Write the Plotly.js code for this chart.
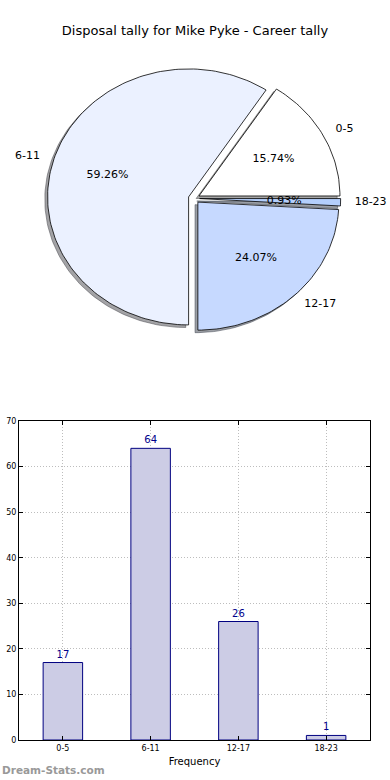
<!DOCTYPE html>
<html>
<head>
<meta charset="utf-8">
<script src="https://cdn.plot.ly/plotly-3.0.1.min.js"></script>
<style>html,body{margin:0;padding:0;background:#fff;}#chart{width:390px;height:780px;}</style>
</head>
<body>
<div id="chart"></div>
<script>
// ---- data ----
const categories = ['0-5', '6-11', '12-17', '18-23'];
const counts = [17, 64, 26, 1];
const chartTitle = 'Disposal tally for Mike Pyke - Career tally';
const xTitle = 'Frequency';
const yTicks = [0, 10, 20, 30, 40, 50, 60, 70];

// ---- style ----
const sliceColors = ['#ffffff', '#ebf1ff', '#c6d9ff', '#b4cffc'];
const explode = 0.04;
const font = 'DejaVu Sans, Verdana, sans-serif';

const total = counts.reduce((a, b) => a + b, 0);
const traces = [];
const wedges = [];
let start = 0;
counts.forEach((v, i) => {
  const span = 360 * v / total;
  const t1 = start, t2 = start + span;
  start = t2;
  const mid = (t1 + t2) / 2 * Math.PI / 180;
  const cx = explode * Math.cos(mid), cy = explode * Math.sin(mid);
  const xs = [cx], ys = [cy];
  const n = Math.max(4, Math.ceil(span / 1.5));
  for (let k = 0; k <= n; k++) {
    const a = (t1 + (t2 - t1) * k / n) * Math.PI / 180;
    xs.push(cx + Math.cos(a));
    ys.push(cy + Math.sin(a));
  }
  xs.push(cx); ys.push(cy);
  wedges.push({xs, ys, cx, cy, mid, i, v});
});

function hexToRgb(h) {
  return [parseInt(h.slice(1,3),16), parseInt(h.slice(3,5),16), parseInt(h.slice(5,7),16)];
}
// shadows (below all wedges)
wedges.forEach(w => {
  const c = hexToRgb(sliceColors[w.i]).map(x => Math.round(x * 0.3));
  const col = `rgba(${c[0]},${c[1]},${c[2]},0.5)`;
  traces.push({
    type: 'scatter', mode: 'lines', x: w.xs.map(x => x - 0.02), y: w.ys.map(y => y - 0.02),
    fill: 'toself', fillcolor: col, line: {color: col, width: 1},
    xaxis: 'x', yaxis: 'y', hoverinfo: 'skip', showlegend: false
  });
});
// wedges
wedges.forEach(w => {
  traces.push({
    type: 'scatter', mode: 'lines', x: w.xs, y: w.ys,
    fill: 'toself', fillcolor: sliceColors[w.i], line: {color: '#000', width: 0.8},
    xaxis: 'x', yaxis: 'y', name: categories[w.i], hoverinfo: 'name', showlegend: false
  });
});
// percent texts
traces.push({
  type: 'scatter', mode: 'text',
  x: wedges.map(w => w.cx + 0.6 * Math.cos(w.mid)),
  y: wedges.map(w => w.cy + 0.6 * Math.sin(w.mid)),
  text: wedges.map(w => (w.v / total * 100).toFixed(2) + '%'),
  textposition: 'middle center',
  textfont: {family: font, size: 11, color: '#000'},
  xaxis: 'x', yaxis: 'y', hoverinfo: 'skip', showlegend: false, cliponaxis: false
});
// outer labels
wedges.forEach(w => {
  const lx = w.cx + 1.1 * Math.cos(w.mid);
  traces.push({
    type: 'scatter', mode: 'text',
    x: [lx], y: [w.cy + 1.1 * Math.sin(w.mid)],
    text: [categories[w.i]],
    textposition: lx > 0 ? 'middle right' : 'middle left',
    textfont: {family: font, size: 11, color: '#000'},
    xaxis: 'x', yaxis: 'y', hoverinfo: 'skip', showlegend: false, cliponaxis: false
  });
});

// bar chart
traces.push({
  type: 'bar', x: categories, y: counts, width: 0.45,
  marker: {color: '#ccccE5', line: {color: '#000080', width: 1}},
  text: counts.map(String), textposition: 'outside',
  textfont: {family: font, size: 10, color: '#00008b'},
  cliponaxis: false, xaxis: 'x2', yaxis: 'y2', showlegend: false
});

const W = 390, H = 780;
const layout = {
  width: W, height: H,
  margin: {l: 0, r: 0, t: 0, b: 0},
  paper_bgcolor: '#fff', plot_bgcolor: 'rgba(0,0,0,0)',
  font: {family: font, color: '#000'},
  showlegend: false,
  title: {text: chartTitle, x: 0.5, xanchor: 'center', y: 1 - 30 / H, yanchor: 'middle',
          font: {family: font, size: 13, color: '#000'}},
  xaxis: {domain: [0, 1], range: [-194 / 141, 196 / 141], visible: false, fixedrange: true},
  yaxis: {domain: [1 - 400 / H, 1], range: [-201.6 / 128, 198.4 / 128], visible: false, fixedrange: true},
  xaxis2: {domain: [19 / W, 370 / W], anchor: 'y2', type: 'category', range: [-0.5, 3.5],
           showline: true, linecolor: '#000', linewidth: 1, mirror: 'ticks',
           ticks: 'inside', ticklen: 4, tickcolor: '#000',
           showgrid: true, gridcolor: '#bdbdbd', griddash: '1px,2px', gridwidth: 1,
           tickfont: {family: font, size: 8, color: '#000'},
           title: {text: xTitle, font: {family: font, size: 10, color: '#000'}, standoff: 6}},
  yaxis2: {domain: [40 / H, 359 / H], anchor: 'x2', range: [0, 70], tickvals: yTicks,
           showline: true, linecolor: '#000', linewidth: 1, mirror: 'ticks',
           ticks: 'inside', ticklen: 4, tickcolor: '#000', zeroline: false,
           showgrid: true, gridcolor: '#bdbdbd', griddash: '1px,2px', gridwidth: 1,
           tickfont: {family: font, size: 8, color: '#000'}},
  annotations: [{
    text: '<b>Dream-Stats.com</b>', xref: 'paper', yref: 'paper', x: 0, y: 10 / H,
    xanchor: 'left', yanchor: 'middle', showarrow: false,
    font: {family: font, size: 10.5, color: '#999999'}
  }]
};

Plotly.newPlot('chart', traces, layout, {displayModeBar: false, staticPlot: true});
</script>
</body>
</html>
